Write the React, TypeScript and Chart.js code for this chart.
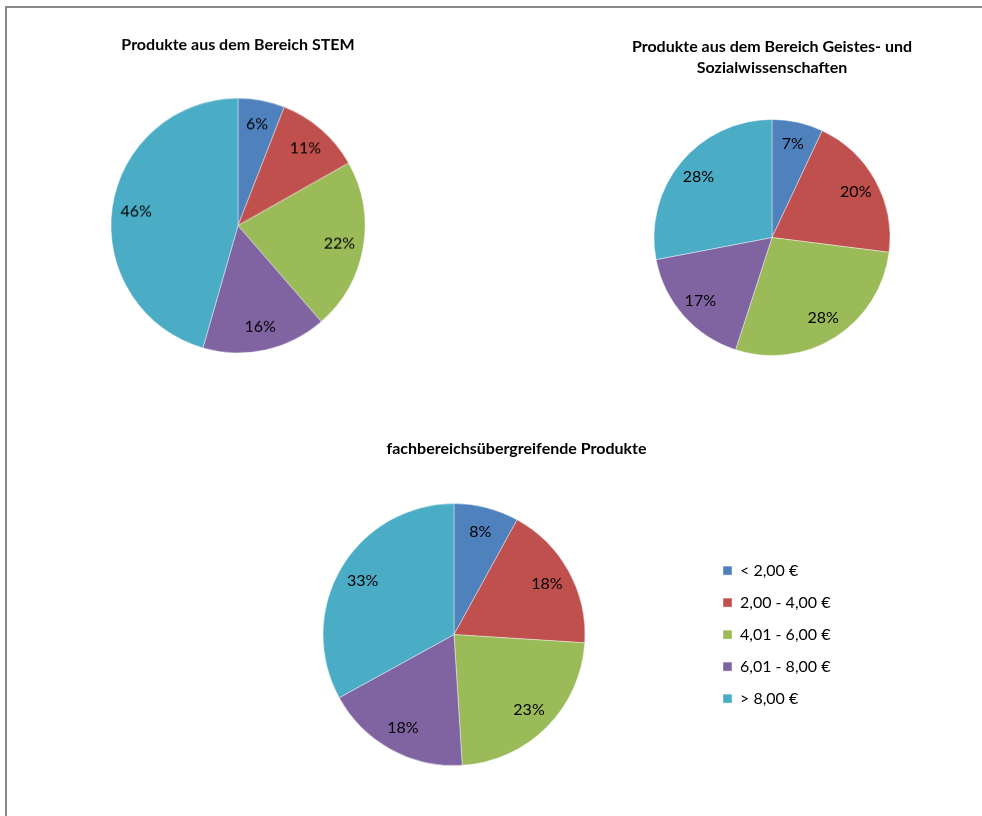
import React, { useEffect, useRef } from "react";
import { Chart, registerables } from "chart.js";

Chart.register(...registerables);

const categories = ["< 2,00 €", "2,00 - 4,00 €", "4,01 - 6,00 €", "6,01 - 8,00 €", "> 8,00 €"];
const stemValues = [6, 11, 22, 16, 46];
const geistesValues = [7, 20, 28, 17, 28];
const fachValues = [8, 18, 23, 18, 33];
const stemTitle = "Produkte aus dem Bereich STEM";
const geistesTitle = ["Produkte aus dem Bereich Geistes- und", "Sozialwissenschaften"];
const fachTitle = "fachbereichsübergreifende Produkte";
const sliceColors = ["#4F81BD", "#C0504D", "#9BBB59", "#8064A2", "#4BACC6"];

const FONT = "Lato, 'Open Sans', sans-serif";

const pctLabels = {
  id: "pctLabels",
  afterDatasetsDraw(chart: any) {
    const ctx = chart.ctx;
    const meta = chart.getDatasetMeta(0);
    const ds = chart.data.datasets[0];
    ctx.save();
    ctx.font = `16px ${FONT}`;
    ctx.fillStyle = "#000";
    ctx.textAlign = "center";
    ctx.textBaseline = "middle";
    meta.data.forEach((arc: any, i: number) => {
      const p = arc.getProps(["x", "y", "startAngle", "endAngle", "outerRadius"], true);
      const mid = (p.startAngle + p.endAngle) / 2;
      const r = p.outerRadius * 0.81;
      ctx.fillText(ds.data[i] + "%", p.x + Math.cos(mid) * r, p.y + Math.sin(mid) * r);
    });
    ctx.restore();
  },
};

type PieProps = {
  values: number[];
  title: string | string[];
  radius: number;
  left: number;
  top: number;
  width: number;
  height: number;
  titleLineHeight: number;
  legend?: boolean;
};

function PieChart({ values, title, radius, left, top, width, height, titleLineHeight, legend }: PieProps) {
  const ref = useRef<HTMLCanvasElement | null>(null);
  useEffect(() => {
    if (!ref.current) return;
    const chart = new Chart(ref.current, {
      type: "pie",
      data: {
        labels: categories,
        datasets: [
          {
            data: values,
            backgroundColor: sliceColors,
            borderColor: "rgba(255,255,255,0.5)",
            borderWidth: 0.8,
          },
        ],
      },
      options: {
        animation: false,
        responsive: true,
        maintainAspectRatio: false,
        radius: radius,
        layout: { padding: 0 },
        plugins: {
          tooltip: { enabled: false },
          title: {
            display: true,
            text: title,
            color: "#000",
            font: { family: FONT, size: 16, weight: "bold", lineHeight: titleLineHeight },
            padding: { top: 0, bottom: 10 },
          },
          legend: {
            display: !!legend,
            position: "right",
            maxWidth: 125,
            title: {
              display: true,
              text: "",
              font: { family: FONT, size: 12, lineHeight: 1.2 },
              padding: { top: 0, bottom: 14.8 },
            },
            labels: {
              boxWidth: 9,
              boxHeight: 9,
              padding: 16,
              color: "#000",
              font: { family: FONT, size: 16 },
            },
          },
        },
      } as any,
      plugins: [pctLabels],
    });
    return () => chart.destroy();
  }, []);
  return (
    <div style={{ position: "absolute", left, top, width, height }}>
      <canvas ref={ref} />
    </div>
  );
}

export default function App() {
  return (
    <div
      style={{
        position: "absolute",
        left: 0,
        top: 0,
        width: 982,
        height: 816,
        overflow: "hidden",
        background: "#fff",
      }}
    >
      <div
        style={{
          position: "absolute",
          left: 5,
          top: 6,
          width: 1100,
          height: 1000,
          borderLeft: "2px solid #8a8a8a",
          borderTop: "2px solid #8a8a8a",
        }}
      />
      <PieChart values={stemValues} title={stemTitle} radius={127} left={88} top={35} width={300} height={350.8} titleLineHeight={1.2} />
      <PieChart values={geistesValues} title={geistesTitle} radius={118} left={622} top={35.5} width={300} height={351} titleLineHeight={1.3125} />
      <PieChart values={fachValues} title={fachTitle} radius={131} left={201} top={439.4} width={631} height={362} titleLineHeight={1.2} legend />
    </div>
  );
}
